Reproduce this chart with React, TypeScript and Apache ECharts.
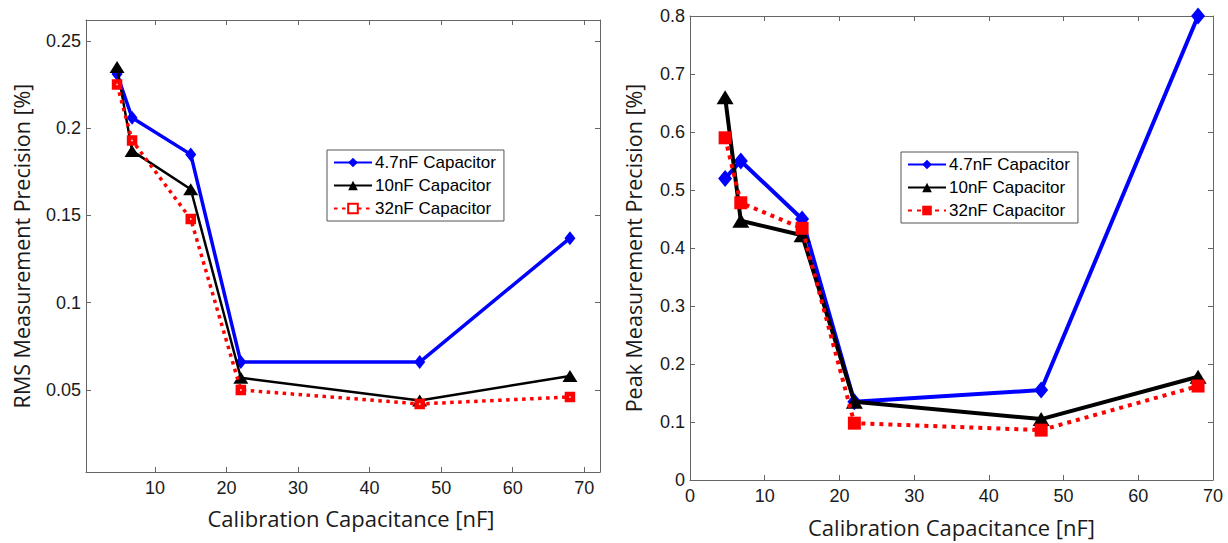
import React, { useEffect, useRef } from "react";
import * as echarts from "echarts";

const capacitance = [4.7, 6.8, 15, 22, 47, 68];
const seriesNames = ["4.7nF Capacitor", "10nF Capacitor", "32nF Capacitor"];

const rms47 = [0.231, 0.206, 0.185, 0.066, 0.066, 0.137];
const rms10 = [0.235, 0.187, 0.165, 0.057, 0.044, 0.058];
const rms32 = [0.225, 0.193, 0.148, 0.05, 0.042, 0.046];

const peak47 = [0.52, 0.55, 0.45, 0.135, 0.155, 0.8];
const peak10 = [0.66, 0.447, 0.422, 0.135, 0.105, 0.178];
const peak32 = [0.59, 0.478, 0.434, 0.098, 0.086, 0.162];

const rmsXTicks = [10, 20, 30, 40, 50, 60, 70];
const rmsYTicks = [0.05, 0.1, 0.15, 0.2, 0.25];
const peakXTicks = [0, 10, 20, 30, 40, 50, 60, 70];
const peakYTicks = [0, 0.1, 0.2, 0.3, 0.4, 0.5, 0.6, 0.7, 0.8];

const xTitle = "Calibration Capacitance [nF]";
const rmsTitle = "RMS Measurement Precision [%]";
const peakTitle = "Peak Measurement Precision [%]";

const AXIS_COLOR = "#666";
const TEXT_COLOR = "#1a1a1a";
const TICK_FONT = "Liberation Sans";
const TITLE_FONT = "Open Sans";

type Cfg = {
  grid: { left: number; top: number; width: number; height: number };
  xMin: number; xMax: number; yMin: number; yMax: number;
  xTicks: number[]; yTicks: number[];
  yName: string; xNameGap: number; yNameGap: number;
  xNameShift: number;
  values: number[][];
  thick: boolean;
  legend: { left: number; top: number };
};

function axisPair(kind: "x" | "y", cfg: Cfg) {
  const isX = kind === "x";
  const min = isX ? cfg.xMin : cfg.yMin;
  const max = isX ? cfg.xMax : cfg.yMax;
  const ticks = isX ? cfg.xTicks : cfg.yTicks;
  const base = {
    type: "value",
    min,
    max,
    splitLine: { show: false },
    axisLine: { show: true, onZero: false, lineStyle: { color: AXIS_COLOR, width: 1 } },
    axisTick: { show: true, inside: true, length: 5, customValues: ticks, lineStyle: { color: AXIS_COLOR } },
  };
  const main = {
    ...base,
    position: isX ? "bottom" : "left",
    axisLabel: {
      show: true,
      customValues: ticks,
      showMinLabel: true,
      showMaxLabel: true,
      fontSize: 18,
      fontFamily: TICK_FONT,
      color: TEXT_COLOR,
      margin: isX ? 7 : 5,
    },
    name: isX ? xTitle : cfg.yName,
    nameLocation: "middle",
    nameGap: isX ? cfg.xNameGap : cfg.yNameGap,
    nameTextStyle: isX
      ? {
          fontFamily: TITLE_FONT,
          fontSize: 22,
          color: TEXT_COLOR,
          padding: [0, 0, 0, cfg.xNameShift * 2],
        }
      : { fontFamily: TITLE_FONT, fontSize: 21.5, color: TEXT_COLOR },
  };
  const mirror = {
    ...base,
    position: isX ? "top" : "right",
    axisLabel: { show: false },
  };
  return [main, mirror];
}

function makeOption(cfg: Cfg) {
  const t = cfg.thick;
  const styles = [
    {
      color: "#0000ff",
      symbol: "diamond",
      symbolSize: t ? [14, 17] : [11, 14],
      lineStyle: { color: "#0000ff", width: t ? 4 : 3.5, type: "solid" },
      itemStyle: { color: "#0000ff" },
    },
    {
      color: "#000000",
      symbol: "triangle",
      symbolSize: t ? [17, 14] : [15, 12],
      lineStyle: { color: "#000000", width: t ? 4 : 2.5, type: "solid" },
      itemStyle: { color: "#000000" },
    },
    {
      color: "#ff0000",
      symbol: "rect",
      symbolSize: t ? 13 : 6,
      lineStyle: { color: "#ff0000", width: t ? 4 : 3.5, type: t ? [4, 5] : [3.5, 4.5] },
      itemStyle: t
        ? { color: "#ff0000" }
        : { color: "#ffffff", borderColor: "#ff0000", borderWidth: 4.5 },
    },
  ];
  return {
    animation: false,
    backgroundColor: "#ffffff",
    grid: { ...cfg.grid, containLabel: false },
    xAxis: axisPair("x", cfg),
    yAxis: axisPair("y", cfg),
    legend: {
      left: cfg.legend.left,
      top: cfg.legend.top,
      orient: "vertical",
      data: seriesNames,
      backgroundColor: "#ffffff",
      borderColor: "#555",
      borderWidth: 1,
      padding: [4, 8, 4, 6],
      itemWidth: 38,
      itemHeight: 12,
      itemGap: 6,
      selectedMode: false,
      textStyle: { fontFamily: TICK_FONT, fontSize: 17, color: "#000", padding: [0, 0, 0, -2] },
    },
    series: seriesNames.map((name, i) => ({
      name,
      type: "line",
      xAxisIndex: 0,
      yAxisIndex: 0,
      data: capacitance.map((x, j) => [x, cfg.values[i][j]]),
      showSymbol: true,
      showAllSymbol: true,
      ...styles[i],
      z: 2 + i,
    })),
  };
}

const leftCfg: Cfg = {
  grid: { left: 86, top: 20, width: 514, height: 452 },
  xMin: 0.36, xMax: 72.2, yMin: 0.003, yMax: 0.262,
  xTicks: rmsXTicks, yTicks: rmsYTicks,
  yName: rmsTitle, xNameGap: 35, yNameGap: 54,
  xNameShift: 8,
  values: [rms47, rms10, rms32],
  thick: false,
  legend: { left: 327, top: 150 },
};

const rightCfg: Cfg = {
  grid: { left: 74, top: 16, width: 525, height: 464 },
  xMin: 0, xMax: 70, yMin: 0, yMax: 0.8,
  xTicks: peakXTicks, yTicks: peakYTicks,
  yName: peakTitle, xNameGap: 36, yNameGap: 46,
  xNameShift: 0,
  values: [peak47, peak10, peak32],
  thick: true,
  legend: { left: 287, top: 152 },
};

function Chart({ cfg, left }: { cfg: Cfg; left: number }) {
  const ref = useRef<HTMLDivElement>(null);
  useEffect(() => {
    if (!ref.current) return;
    const chart = echarts.init(ref.current, undefined, { renderer: "svg" });
    chart.setOption(makeOption(cfg) as any);
    return () => chart.dispose();
  }, [cfg]);
  return (
    <div
      ref={ref}
      style={{ position: "absolute", left, top: 0, width: 614, height: 543 }}
    />
  );
}

export default function App() {
  return (
    <div
      style={{
        position: "fixed",
        left: 0,
        top: 0,
        width: 1228,
        height: 543,
        background: "#ffffff",
        overflow: "hidden",
      }}
    >
      <Chart cfg={leftCfg} left={0} />
      <Chart cfg={rightCfg} left={614} />
    </div>
  );
}
